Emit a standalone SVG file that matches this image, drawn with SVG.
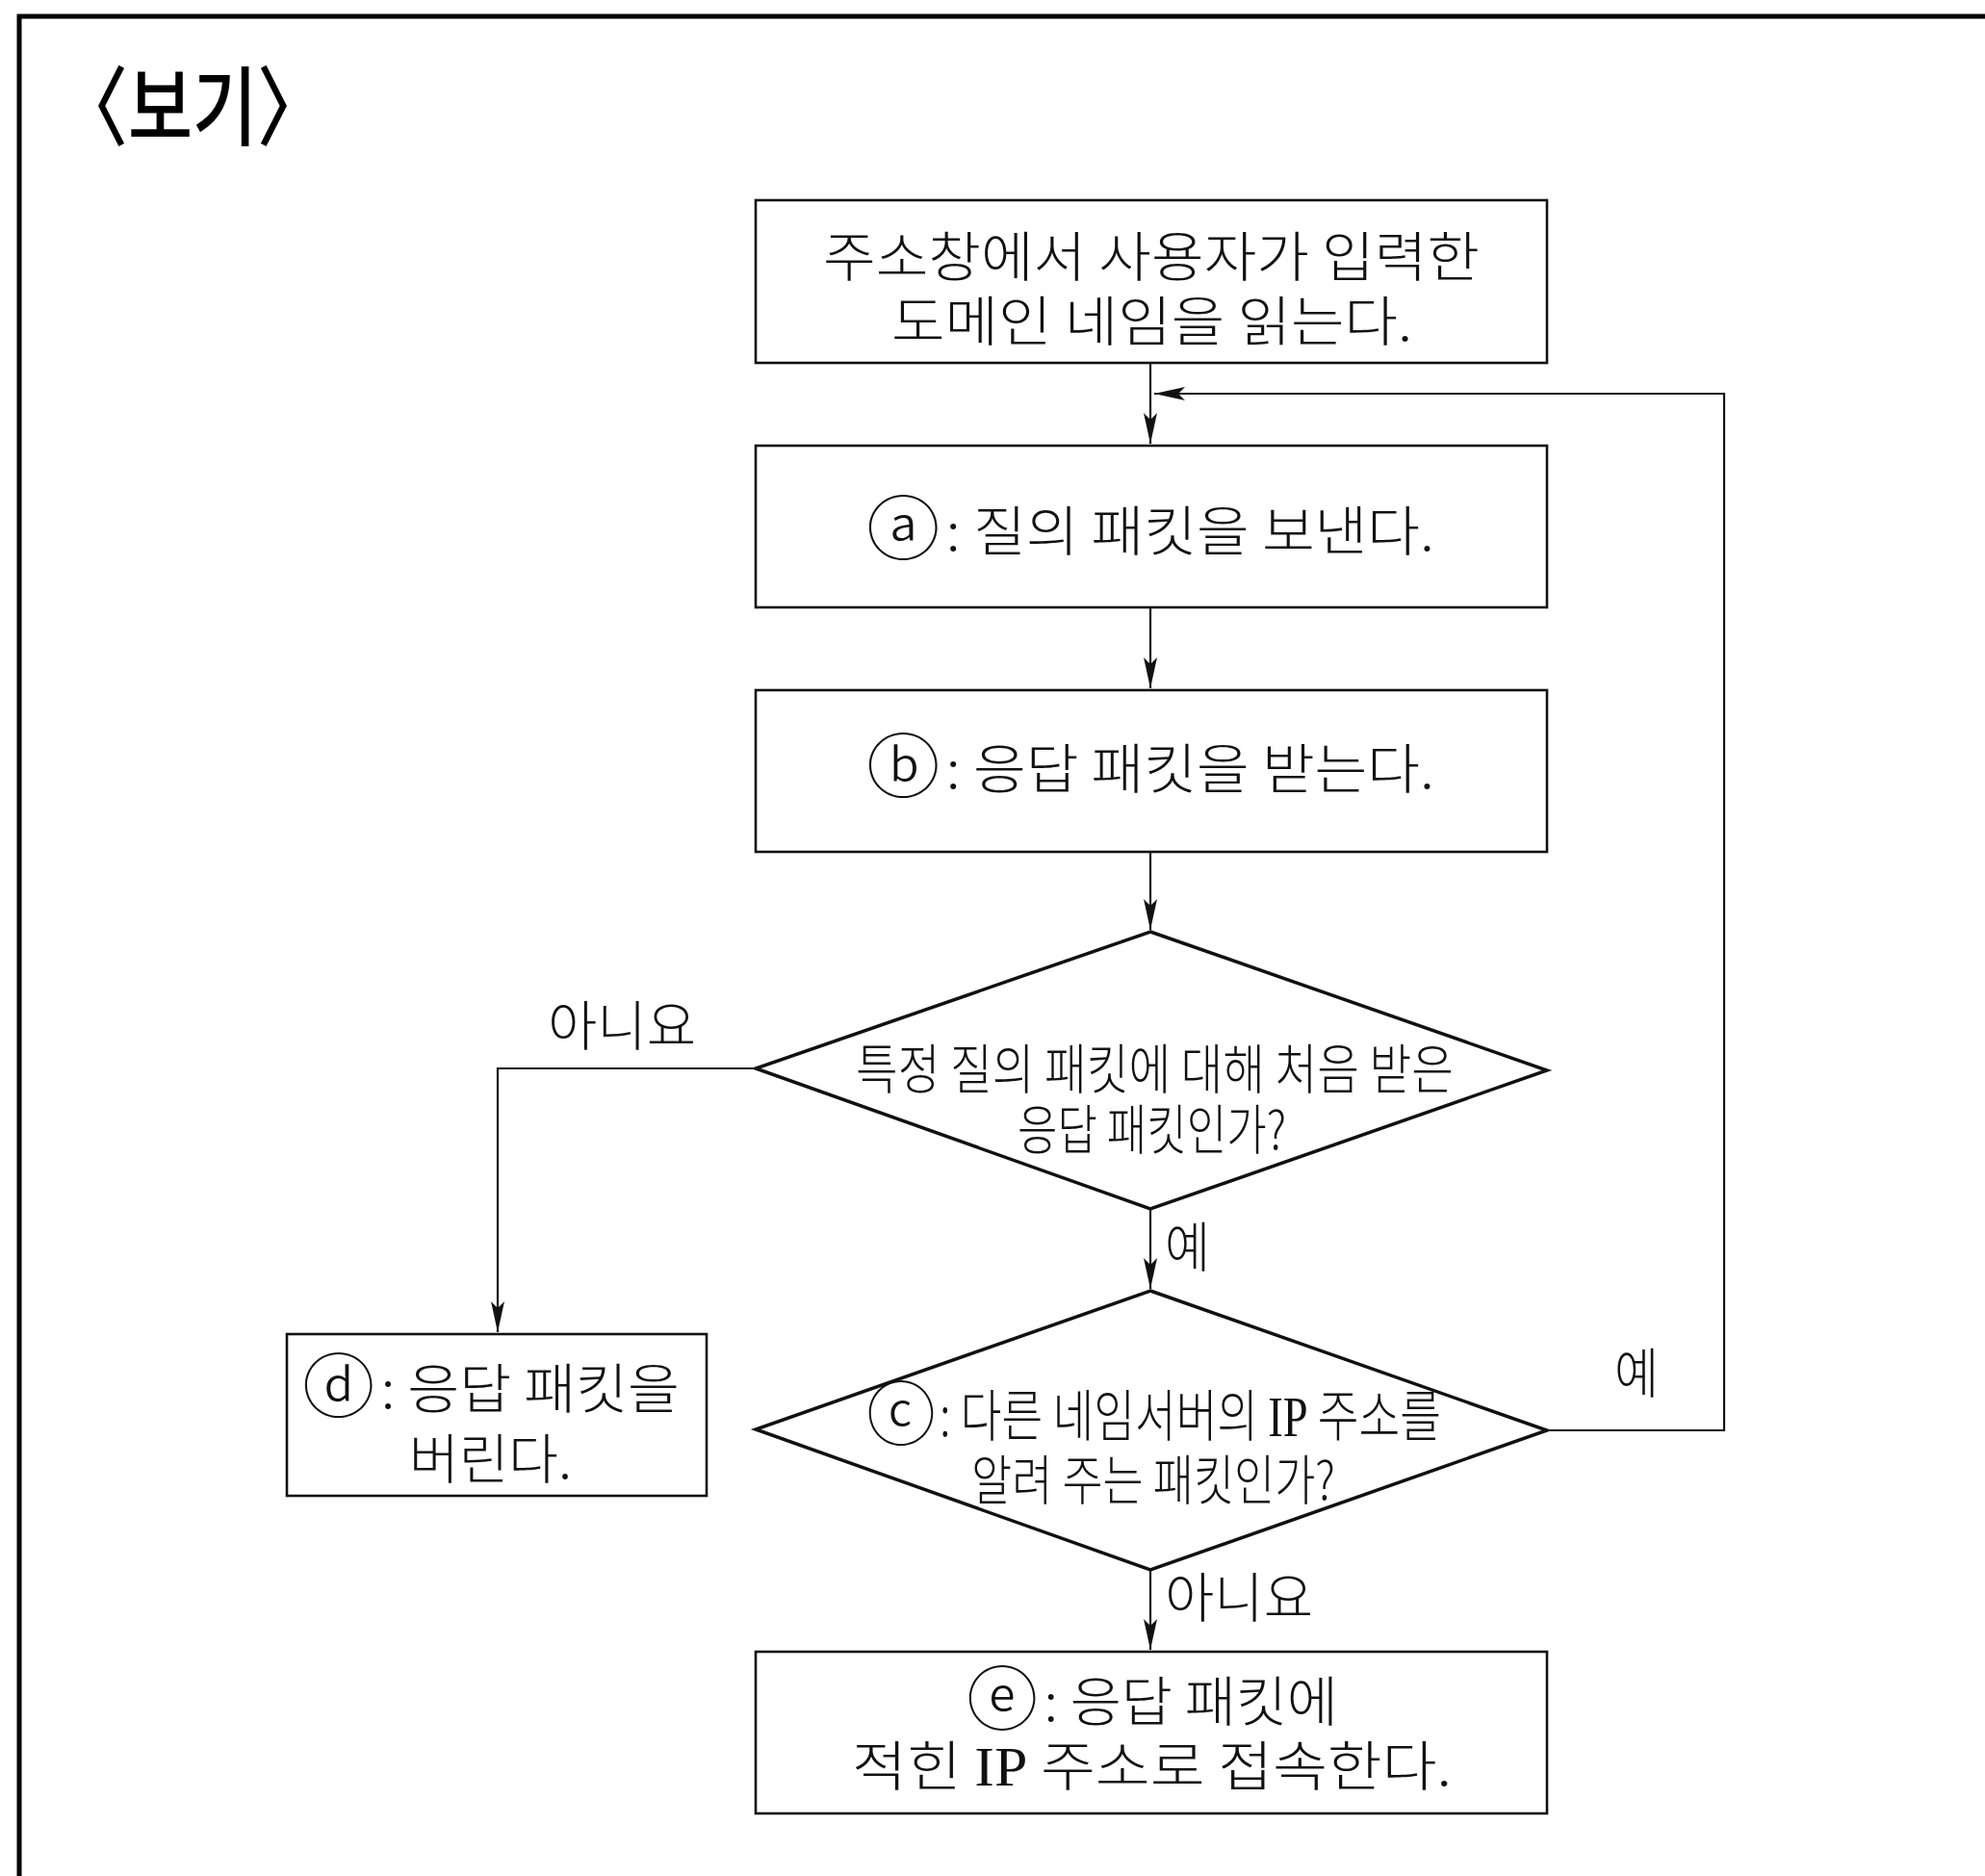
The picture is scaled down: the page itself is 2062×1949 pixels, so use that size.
<svg xmlns="http://www.w3.org/2000/svg" width="2062" height="1949" viewBox="0 0 2062 1949">
<style>
.box{fill:#fff;stroke:#111;stroke-width:2.6}
.dia{fill:#fff;stroke:#111;stroke-width:3.5;stroke-linejoin:miter}
.con{fill:none;stroke:#111;stroke-width:2.2}
.t{font-family:"Noto Sans CJK KR","Noto Sans",sans-serif;font-size:56px;fill:#111;font-weight:300}
.dt{font-family:"Noto Sans CJK KR","Noto Sans",sans-serif;font-size:42px;fill:#111;font-weight:300}
.ip{font-family:"Liberation Serif",serif}
.c{font-size:72px}
.title{font-family:"Noto Sans CJK KR","Noto Sans",sans-serif;font-size:90px;fill:#000;font-weight:500}
</style>
<defs>
<marker id="arr" markerWidth="34" markerHeight="16" refX="32" refY="8" orient="auto" markerUnits="userSpaceOnUse">
<path d="M0,1 L32,8 L0,15 L7,8 Z" fill="#111"/>
</marker>
</defs>
<rect width="2062" height="1949" fill="#fff"/>
<path d="M20,1949 V17 H2062" fill="none" stroke="#000" stroke-width="5"/>
<text class="title" x="60" y="144" textLength="280" lengthAdjust="spacingAndGlyphs">〈보기〉</text>

<g id="connectors">
<path class="con" d="M1195,377 V461" marker-end="url(#arr)"/>
<path class="con" d="M1607,1486 H1791 V409 H1199" marker-end="url(#arr)"/>
<path class="con" d="M1195,631 V715" marker-end="url(#arr)"/>
<path class="con" d="M1195,885 V966" marker-end="url(#arr)"/>
<path class="con" d="M1195,1256 V1339" marker-end="url(#arr)"/>
<path class="con" d="M1195,1631 V1714" marker-end="url(#arr)"/>
<path class="con" d="M785,1110 H517 V1384" marker-end="url(#arr)"/>
<text class="t" x="569" y="1086" textLength="154" lengthAdjust="spacingAndGlyphs">아니요</text>
<text class="t" x="1210" y="1316" textLength="47" lengthAdjust="spacingAndGlyphs">예</text>
<text class="t" x="1677" y="1447" textLength="46" lengthAdjust="spacingAndGlyphs">예</text>
<text class="t" x="1210" y="1680" textLength="154" lengthAdjust="spacingAndGlyphs">아니요</text>
</g>

<g id="start">
<rect class="box" x="785" y="208" width="822" height="169"/>
<text class="t"><tspan x="855" y="287" textLength="682" lengthAdjust="spacingAndGlyphs">주소창에서 사용자가 입력한</tspan><tspan x="926" y="354" textLength="541" lengthAdjust="spacingAndGlyphs">도메인 네임을 읽는다.</tspan></text>
</g>

<g id="a">
<rect class="box" x="785" y="463" width="822" height="168"/>
<text class="t" x="900" y="572" textLength="590" lengthAdjust="spacingAndGlyphs"><tspan class="c" baseline-shift="-3">ⓐ</tspan><tspan dx="6">: 질의 패킷을 보낸다.</tspan></text>
</g>

<g id="b">
<rect class="box" x="785" y="717" width="822" height="168"/>
<text class="t" x="900" y="819" textLength="590" lengthAdjust="spacingAndGlyphs"><tspan class="c" baseline-shift="-3">ⓑ</tspan><tspan dx="6">: 응답 패킷을 받는다.</tspan></text>
</g>

<g id="decision1">
<polygon class="dia" points="1195,968 1607,1112 1195,1256 785,1110"/>
<text class="dt" transform="translate(889,1131) scale(1,1.33)" x="0" y="0" textLength="621" lengthAdjust="spacingAndGlyphs">특정 질의 패킷에 대해 처음 받은</text>
<text class="dt" transform="translate(1057,1194) scale(1,1.33)" x="0" y="0" textLength="279" lengthAdjust="spacingAndGlyphs">응답 패킷인가?</text>
</g>

<g id="decision2">
<polygon class="dia" points="1195,1341 1607,1486 1195,1631 785,1485"/>
<text class="t c" x="900" y="1495">ⓒ</text>
<text class="dt" transform="translate(976,1492) scale(1,1.33)" x="0" y="0" style="font-size:44px" textLength="521" lengthAdjust="spacingAndGlyphs">: 다른 네임서버의 <tspan class="ip">IP</tspan> 주소를</text>
<text class="dt" transform="translate(1009,1558) scale(1,1.33)" x="0" y="0" textLength="378" lengthAdjust="spacingAndGlyphs">알려 주는 패킷인가?</text>
</g>

<g id="d">
<rect class="box" x="298" y="1386" width="436" height="168"/>
<text class="t"><tspan x="314" y="1463" textLength="392" lengthAdjust="spacingAndGlyphs"><tspan class="c" baseline-shift="-3">ⓓ</tspan><tspan dx="6">: 응답 패킷을</tspan></tspan><tspan x="425" y="1536" textLength="169" lengthAdjust="spacingAndGlyphs">버린다.</tspan></text>
</g>

<g id="e">
<rect class="box" x="785" y="1716" width="822" height="168"/>
<text class="t"><tspan x="1004" y="1788" textLength="386" lengthAdjust="spacingAndGlyphs"><tspan class="c" baseline-shift="-3">ⓔ</tspan><tspan dx="6">: 응답 패킷에</tspan></tspan><tspan x="885" y="1855" textLength="623" lengthAdjust="spacingAndGlyphs">적힌 <tspan class="ip">IP</tspan> 주소로 접속한다.</tspan></text>
</g>
</svg>
